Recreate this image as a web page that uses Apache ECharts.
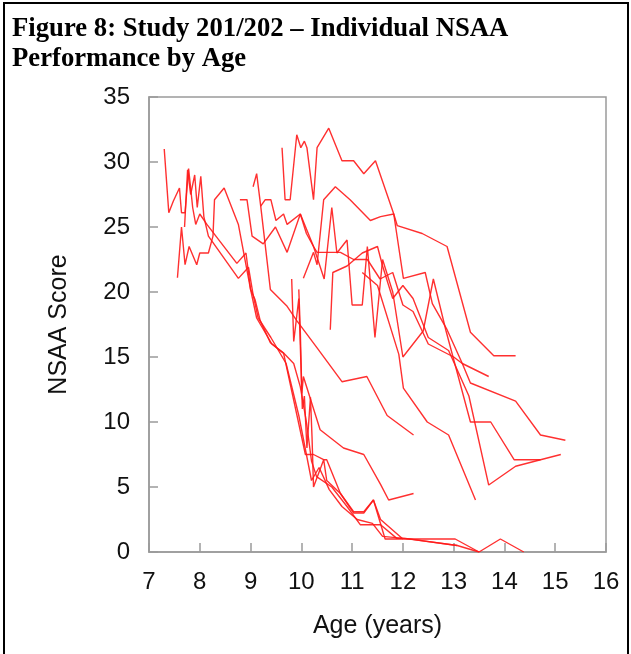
<!DOCTYPE html>
<html>
<head>
<meta charset="utf-8">
<script src="https://cdn.jsdelivr.net/npm/echarts@6/dist/echarts.min.js"></script>
<style>
  html, body { margin: 0; padding: 0; background: #fff; }
  #chart { width: 631px; height: 654px; }
</style>
</head>
<body>
<div id="chart"></div>
<script>
// individual patient trajectories: [age, NSAA score]
const p01 = [[7.30,31.0],[7.39,26.1],[7.48,27.0],[7.60,28.0],[7.64,26.1],[7.71,26.1],[7.78,29.5],[7.86,26.5],[7.92,25.2],[8.0,26.0],[8.14,25.2],[8.73,22.2],[8.91,23.0],[9.0,20.2],[9.09,19.4],[9.19,17.8],[9.39,16.1],[9.65,15.3],[10.08,7.5],[10.24,7.5],[10.44,7.1],[10.5,7.1],[10.77,4.5],[11.03,3.0],[11.23,3.0],[11.42,4.0],[11.65,1.0],[13.03,1.0],[13.5,0.0]];
const p02 = [[7.56,21.1],[7.64,25.0],[7.71,22.1],[7.79,23.5],[7.94,22.1],[8.0,23.0],[8.17,23.0],[8.26,24.3],[8.29,27.1],[8.48,28.0],[8.76,25.2],[9.0,20.2],[9.12,18.0],[9.42,16.0],[9.65,15.3],[9.85,14.5],[9.98,12.7],[10.1,10.0],[10.2,7.0],[10.3,5.8],[10.6,5.0],[10.9,3.5],[11.16,2.1],[11.56,2.1],[11.88,1.05],[12.05,1.05],[13.07,0.5],[13.5,0.0],[13.92,1.0],[14.38,0.0]];
const p03 = [[7.70,25.0],[7.76,29.4],[7.82,27.5],[7.90,29.0],[7.95,26.5],[8.02,28.9],[8.08,25.8],[8.17,24.3],[8.76,21.05],[8.96,21.9],[9.05,19.8],[9.15,18.0],[9.4,16.5],[9.7,14.5],[9.95,10.5],[10.1,7.5],[10.2,5.5],[10.35,6.5],[10.55,4.8],[10.8,3.5],[11.1,2.5],[11.4,2.2],[11.6,1.2],[12.02,1.05],[13.07,0.5]];
const p04 = [[9.62,31.1],[9.68,27.1],[9.78,27.1],[9.91,32.1],[9.99,31.1],[10.06,31.6],[10.11,31.1],[10.24,27.1],[10.31,31.1],[10.54,32.6],[10.8,30.1],[11.03,30.1],[11.23,29.1],[11.46,30.1],[11.82,26.0],[12.01,21.05],[12.44,21.5],[12.58,19.1],[12.87,17.1],[13.17,14.5],[13.69,13.5]];
const p05 = [[9.05,28.1],[9.12,29.1],[9.20,26.6],[9.39,20.2],[9.72,18.9],[9.91,17.8],[10.31,15.7],[10.8,13.1],[11.29,13.5],[11.69,10.5],[12.21,9.0]];
const p06 = [[8.79,27.1],[8.93,27.1],[9.03,24.3],[9.25,23.7],[9.49,25.0],[9.72,23.05],[9.98,26.0],[10.24,23.5],[10.31,23.05],[10.77,23.05],[11.03,22.5],[11.3,22.5],[11.55,21.0],[11.8,21.5],[12.0,19.0],[12.2,18.5],[12.5,16.0],[13.0,15.0],[13.17,14.5],[13.33,13.0],[14.22,11.6],[14.71,9.0],[15.2,8.6]];
const p07 = [[9.2,26.6],[9.29,27.1],[9.4,27.1],[9.5,25.5],[9.65,26.0],[9.72,25.2],[9.98,26.0],[10.1,24.5],[10.24,23.5],[10.45,21.0],[10.6,26.5],[10.7,23.0],[10.9,24.0],[11.0,19.0],[11.2,19.0],[11.3,23.5],[11.45,16.5],[11.6,22.5],[11.8,20.0],[12.0,15.0],[12.4,17.0],[12.6,21.0],[12.85,17.0],[13.33,10.0],[13.73,10.0],[14.19,7.1],[14.71,7.1],[15.11,7.5]];
const p08 = [[10.04,21.05],[10.24,23.05],[10.31,22.1],[10.44,27.1],[10.67,28.1],[10.96,27.1],[11.36,25.5],[11.56,25.8],[11.82,26.0],[11.89,25.1],[12.38,24.5],[12.87,23.5],[13.33,16.9],[13.79,15.1],[14.22,15.1]];
const p09 = [[10.57,17.1],[10.62,21.5],[10.9,22.0],[11.2,23.0],[11.5,23.5],[11.6,22.0],[11.8,19.5],[12.0,20.5],[12.2,19.5],[12.5,16.5],[12.9,15.5],[13.3,12.0],[13.69,5.15],[14.22,6.6],[14.71,7.1]];
const p10 = [[11.2,21.5],[11.5,20.5],[11.92,15.2],[12.01,12.6],[12.48,10.0],[12.9,9.0],[13.43,4.0]];
const p11 = [[9.81,21.0],[9.85,16.2],[9.89,17.5],[9.95,19.5],[10.02,11.0],[10.06,12.0],[10.11,8.0],[10.18,11.9],[10.21,8.9],[10.24,5.0],[10.44,7.1],[10.5,5.5],[10.77,4.5],[11.03,3.1],[11.23,3.1],[11.42,4.0],[11.56,2.5],[12.0,1.0]];
const p12 = [[9.95,20.2],[9.98,17.0],[10.01,12.2],[10.04,13.5],[10.37,9.4],[10.83,8.0],[11.23,7.5],[11.56,5.2],[11.72,4.0],[12.21,4.5]];

const patients = [p01, p02, p03, p04, p05, p06, p07, p08, p09, p10, p11, p12];

const xTicks = [7, 16, 1];   // min, max, interval
const yTicks = [0, 35, 5];

const chart = echarts.init(document.getElementById('chart'));
const textColor = '#111111';
const axisColor = '#9a9a9a';
const fontFamily = 'Liberation Sans';

const option = {
  animation: false,
  backgroundColor: '#ffffff',
  title: {
    text: 'Figure 8: Study 201/202 \u2013 Individual NSAA\nPerformance by Age',
    left: 7,
    top: 9,
    textStyle: {
      fontFamily: 'Liberation Serif',
      fontWeight: 'bold',
      fontSize: 26.7,
      lineHeight: 30,
      color: '#000'
    }
  },
  graphic: [
    {
      type: 'rect',
      shape: { x: 4, y: 3, width: 624, height: 700 },
      style: { fill: 'none', stroke: '#000', lineWidth: 2 }
    }
  ],
  grid: {
    left: 149,
    top: 97,
    width: 457,
    height: 455,
    show: true,
    borderColor: axisColor,
    borderWidth: 1.5,
    backgroundColor: 'transparent'
  },
  xAxis: {
    type: 'value',
    min: xTicks[0],
    max: xTicks[1],
    interval: xTicks[2],
    name: 'Age (years)',
    nameLocation: 'middle',
    nameGap: 62,
    nameTextStyle: { fontFamily: fontFamily, fontSize: 25, color: textColor },
    axisLine: { show: true, lineStyle: { color: axisColor, width: 1.5 } },
    axisTick: { show: true, inside: true, length: 9, lineStyle: { color: axisColor, width: 1.5 } },
    axisLabel: { fontFamily: fontFamily, fontSize: 24, color: textColor, margin: 18 },
    splitLine: { show: false }
  },
  yAxis: {
    type: 'value',
    min: yTicks[0],
    max: yTicks[1],
    interval: yTicks[2],
    name: 'NSAA Score',
    nameLocation: 'middle',
    nameRotate: 90,
    nameGap: 77,
    nameTextStyle: { fontFamily: fontFamily, fontSize: 25, color: textColor },
    axisLine: { show: true, lineStyle: { color: axisColor, width: 1.5 } },
    axisTick: { show: true, inside: true, length: 9, lineStyle: { color: axisColor, width: 1.5 } },
    axisLabel: { fontFamily: fontFamily, fontSize: 24, color: textColor, margin: 19 },
    splitLine: { show: false }
  },
  series: patients.map(function (p) {
    return {
      type: 'line',
      data: p,
      showSymbol: false,
      symbol: 'none',
      silent: true,
      clip: true,
      lineStyle: { color: '#ff1a1a', width: 1.4, opacity: 0.9 }
    };
  })
};

chart.setOption(option);
</script>
</body>
</html>
